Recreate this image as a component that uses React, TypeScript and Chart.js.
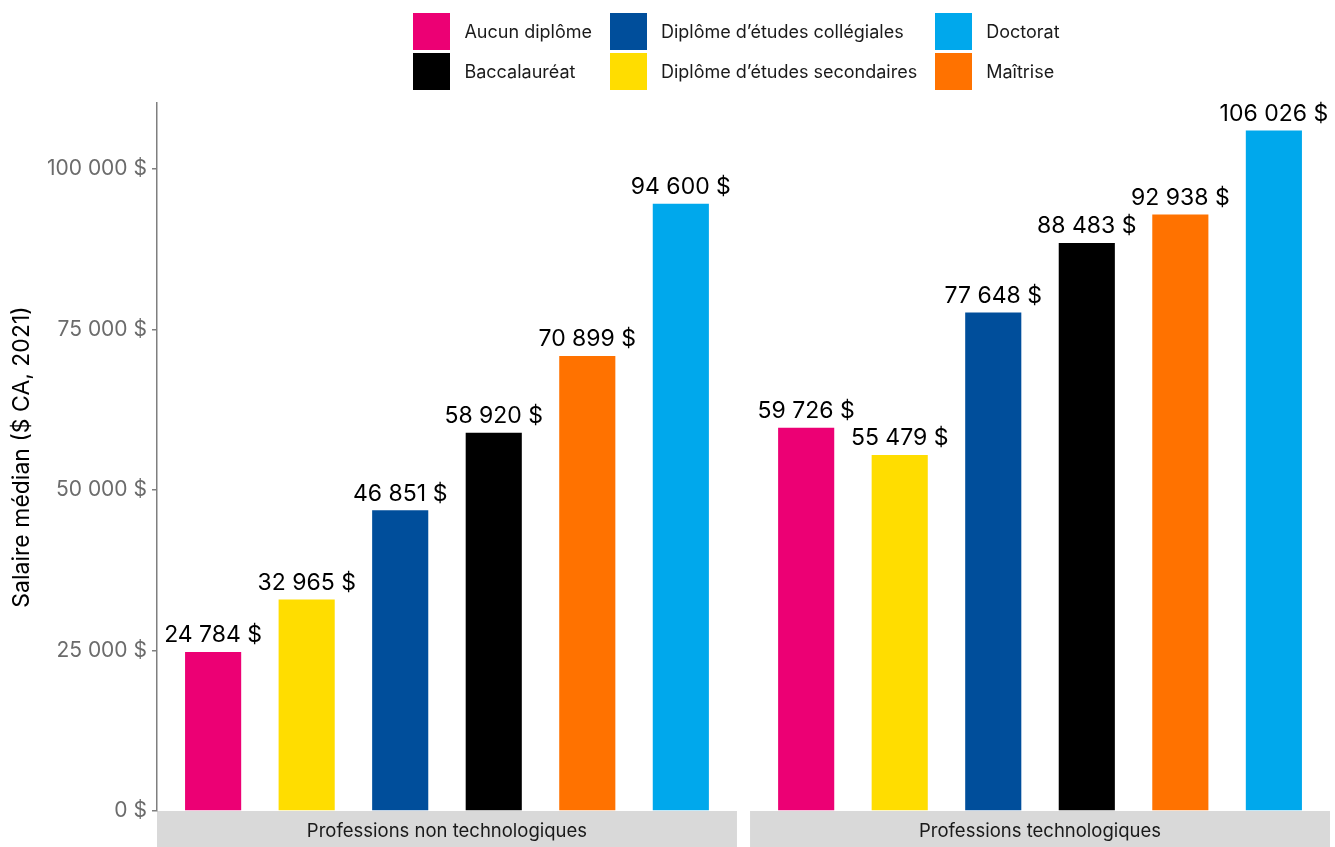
import React, { useEffect, useRef } from "react";
import { Chart, registerables } from "chart.js";

Chart.register(...registerables);

const levels = [
  "Aucun diplôme",
  "Diplôme d’études secondaires",
  "Diplôme d’études collégiales",
  "Baccalauréat",
  "Maîtrise",
  "Doctorat",
];
const levelColors = ["#EC0074", "#FFDD00", "#004E9B", "#000000", "#FF7200", "#00A8EC"];
const panels = ["Professions non technologiques", "Professions technologiques"];
const nonTechSalaries = [24784, 32965, 46851, 58920, 70899, 94600];
const techSalaries = [59726, 55479, 77648, 88483, 92938, 106026];
const yTickValues = [0, 25000, 50000, 75000, 100000];
const legendOrder = [
  "Aucun diplôme",
  "Baccalauréat",
  "Diplôme d’études collégiales",
  "Diplôme d’études secondaires",
  "Doctorat",
  "Maîtrise",
];
const yTitle = "Salaire médian ($ CA, 2021)";

const FONT = "Inter, 'Noto Sans', sans-serif";
const EXPAND = 0.6;
const GAP = 0.14;
const SPAN = levels.length - 1 + 2 * EXPAND;
const panelStart = (p: number) => 1 - EXPAND + p * (SPAN + GAP);
const panelValues = [nonTechSalaries, techSalaries];

const fmt = (v: number) =>
  String(Math.round(v)).replace(/\B(?=(\d{3})+(?!\d))/g, " ") + " $";

const facetPlugin = {
  id: "facets",
  beforeDraw(chart: any) {
    const { ctx, chartArea, scales } = chart;
    const x = scales.x;
    ctx.save();
    panels.forEach((name, p) => {
      const x0 = x.getPixelForValue(panelStart(p));
      const x1 = x.getPixelForValue(panelStart(p) + SPAN);
      ctx.fillStyle = "#D9D9D9";
      ctx.fillRect(x0, chartArea.bottom, x1 - x0, 36);
      ctx.fillStyle = "#1A1A1A";
      ctx.font = `18.5px ${FONT}`;
      ctx.textAlign = "center";
      ctx.textBaseline = "middle";
      ctx.fillText(name, (x0 + x1) / 2, chartArea.bottom + 20);
    });
    ctx.restore();
  },
  afterDatasetsDraw(chart: any) {
    const { ctx } = chart;
    ctx.save();
    ctx.fillStyle = "#000";
    ctx.font = `23px ${FONT}`;
    ctx.textAlign = "center";
    ctx.textBaseline = "bottom";
    chart.data.datasets.forEach((ds: any, di: number) => {
      const meta = chart.getDatasetMeta(di);
      meta.data.forEach((el: any, i: number) => {
        ctx.fillText(fmt(ds.data[i].y), el.x, el.y - 5);
      });
    });
    ctx.restore();
  },
};

export default function App() {
  const ref = useRef<HTMLCanvasElement | null>(null);
  useEffect(() => {
    if (!ref.current) return;
    const datasets = levels.map((lvl, i) => ({
      label: lvl,
      data: panels.map((_, p) => ({ x: panelStart(p) + EXPAND + i, y: panelValues[p][i] })),
      backgroundColor: levelColors[i],
      grouped: false,
      categoryPercentage: 1,
      barPercentage: 0.6,
    }));
    const chart = new Chart(ref.current, {
      type: "bar",
      data: { datasets },
      plugins: [facetPlugin],
      options: {
        animation: false,
        responsive: false,
        devicePixelRatio: 1,
        layout: { padding: { top: 103, right: 5, bottom: 36, left: 0 } },
        plugins: { legend: { display: false }, tooltip: { enabled: false } },
        scales: {
          x: {
            type: "linear",
            display: false,
            offset: false,
            min: panelStart(0),
            max: panelStart(panels.length - 1) + SPAN,
          },
          y: {
            min: 0,
            max: 110300,
            afterFit: (s: any) => {
              s.width = 157;
            },
            afterBuildTicks: (s: any) => {
              s.ticks = yTickValues.map((v) => ({ value: v }));
            },
            border: { color: "#7F7F7F", width: 1.5 },
            grid: {
              drawOnChartArea: false,
              drawTicks: true,
              tickLength: 5,
              color: "#7F7F7F",
              lineWidth: 1.5,
            },
            ticks: {
              color: "#6B6B6B",
              font: { family: FONT, size: 21 },
              padding: 5,
              callback: (v: any) => fmt(Number(v)),
            },
            title: {
              display: true,
              text: yTitle,
              color: "#000",
              font: { family: FONT, size: 23 },
              padding: { top: 8, bottom: 0 },
            },
          },
        },
      },
    } as any);
    return () => chart.destroy();
  }, []);

  const legendColor = (name: string) => levelColors[levels.indexOf(name)];

  return (
    <div style={{ position: "absolute", left: 0, top: 0, width: 1335, height: 847, background: "#fff" }}>
      <canvas ref={ref} width={1335} height={847} style={{ display: "block" }} />
      <div
        style={{
          position: "absolute",
          top: 13,
          left: 150,
          width: 1173,
          display: "flex",
          justifyContent: "center",
        }}
      >
        <div
          style={{
            display: "grid",
            gridTemplateRows: "repeat(2, 37px)",
            gridAutoFlow: "column",
            columnGap: 18,
            rowGap: 3,
          }}
        >
          {legendOrder.map((name) => (
            <div key={name} style={{ display: "flex", alignItems: "center", gap: 14 }}>
              <div style={{ width: 37, height: 37, background: legendColor(name) }} />
              <span style={{ fontFamily: FONT, fontSize: 18, color: "#1A1A1A", whiteSpace: "nowrap" }}>
                {name}
              </span>
            </div>
          ))}
        </div>
      </div>
    </div>
  );
}
